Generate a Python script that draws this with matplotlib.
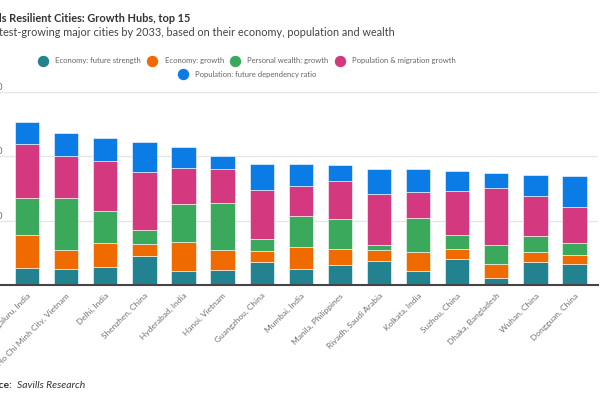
import matplotlib.pyplot as plt
from matplotlib.lines import Line2D
import numpy as np

cities = [
    "Bengaluru, India", "Ho Chi Minh City, Vietnam", "Delhi, India",
    "Shenzhen, China", "Hyderabad, India", "Hanoi, Vietnam",
    "Guangzhou, China", "Mumbai, India", "Manila, Philippines",
    "Riyadh, Saudi Arabia", "Kolkata, India", "Suzhou, China",
    "Dhaka, Bangladesh", "Wuhan, China", "Dongguan, China",
]

series_names = [
    "Economy: future strength", "Economy: growth", "Personal wealth: growth",
    "Population & migration growth", "Population: future dependency ratio",
]

econ_strength = [2.6, 2.5, 2.8, 4.5, 2.2, 2.4, 3.6, 2.5, 3.1, 3.7, 2.2, 4.0, 1.1, 3.5, 3.3]
econ_growth = [5.1, 3.0, 3.8, 1.9, 4.5, 3.0, 1.7, 3.4, 2.5, 1.7, 2.9, 1.6, 2.2, 1.7, 1.4]
wealth_growth = [5.9, 8.1, 4.9, 2.2, 5.9, 7.4, 1.9, 4.9, 4.7, 0.8, 5.3, 2.1, 2.9, 2.4, 1.8]
pop_migration = [8.3, 6.5, 7.8, 9.0, 5.6, 5.3, 7.5, 4.6, 5.9, 7.9, 4.1, 6.9, 8.9, 6.3, 5.7]
pop_dependency = [3.5, 3.5, 3.5, 4.6, 3.2, 1.9, 4.1, 3.4, 2.5, 4.0, 3.6, 3.1, 2.3, 3.2, 4.7]

yticks = [0, 10, 20, 30]

colors = ["#23828f", "#ef6b00", "#3ba95c", "#d4397f", "#0b7be6"]

plt.rcParams["font.family"] = ["Lato", "DejaVu Sans"]

fig = plt.figure(figsize=(6, 4), dpi=100)
W, H = 600, 400

ax = fig.add_axes([-12 / W, 1 - 285 / H, 610 / W, (285 - 92) / H])

x = np.arange(len(cities))
bottom = np.zeros(len(cities))
for vals, c in zip([econ_strength, econ_growth, wealth_growth, pop_migration, pop_dependency], colors):
    ax.bar(x, vals, width=0.62, bottom=bottom, color=c, edgecolor="white", linewidth=0.4, zorder=3)
    bottom += np.array(vals)

ax.set_xlim(-1.0, 14.6)
ax.set_ylim(0, 30)
ax.set_yticks(yticks)
ax.set_yticklabels([str(t) for t in yticks])
ax.tick_params(axis="y", length=0, pad=-3, labelsize=6.5, labelcolor="#666666")
for lbl in ax.get_yticklabels():
    lbl.set_ha("left")
    lbl.set_va("bottom")
ax.grid(axis="y", color="#e6e6e6", linewidth=1, zorder=0)

ax.set_xticks(x)
ax.set_xticklabels(cities, rotation=45, ha="right", rotation_mode="anchor",
                   fontsize=6, color="#707070")
ax.tick_params(axis="x", length=0, pad=5)

for s in ["top", "right", "left"]:
    ax.spines[s].set_visible(False)
ax.spines["bottom"].set_color("#444444")
ax.spines["bottom"].set_linewidth(1.5)
ax.spines["bottom"].set_zorder(4)

# titles (left part cropped off like the reference)
fig.text(190 / W, 1 - 18 / H, "Savills Resilient Cities: Growth Hubs, top 15",
         ha="right", va="center", fontsize=7.9, fontweight="bold", color="#333333")
fig.text(395 / W, 1 - 33 / H,
         "The fastest-growing major cities by 2033, based on their economy, population and wealth",
         ha="right", va="center", fontsize=7.8, color="#444444")

# legend
handles = [Line2D([], [], marker="o", ls="", color=c, markersize=7.2) for c in colors]
leg_kw = dict(frameon=False, fontsize=5.5, handlelength=0.8, handletextpad=1.2,
              borderpad=0, labelcolor="#666666")
fig.legend(handles[:4], series_names[:4], loc="center", bbox_to_anchor=(248 / W, 1 - 61 / H),
           ncol=4, columnspacing=1.1, **leg_kw)
fig.legend(handles[4:], series_names[4:], loc="center", bbox_to_anchor=(248 / W, 1 - 74 / H),
           **leg_kw)

# source
fig.text(13 / W, 1 - 385 / H, "Source:", ha="right", va="center", fontsize=7.5,
         fontweight="bold", color="#333333")
fig.text(17 / W, 1 - 385 / H, "Savills Research", ha="left", va="center", fontsize=7.5,
         style="italic", color="#333333")

fig.savefig("out.png", dpi=100)
